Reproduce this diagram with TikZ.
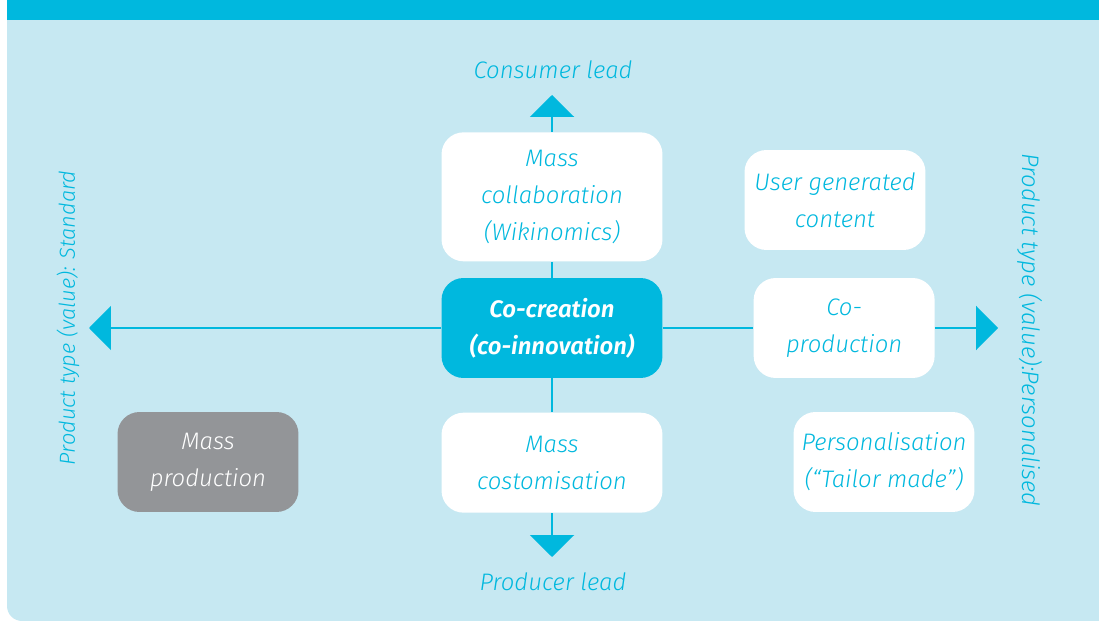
\documentclass[tikz,border=0pt]{standalone}
\usepackage{fontspec}
\setmainfont{Fira Sans}[ItalicFont=* Light Italic]
\usetikzlibrary{arrows.meta,positioning}
\definecolor{Cyan}{HTML}{00B8DE}
\definecolor{Pale}{HTML}{C6E8F2}
\definecolor{Slate}{HTML}{939598}

\begin{document}
\begin{tikzpicture}[x=0.02cm, y=-0.02cm,
  every node/.style={font=\fontsize{13.6}{21}\selectfont\itshape, text=Cyan, align=center},
  box/.style={fill=white, rounded corners=0.44cm, minimum width=4.42cm, minimum height=2cm, inner sep=0pt},
  smallbox/.style={box, minimum width=3.62cm},
  axis/.style={line width=1.4pt, draw=Cyan},
  tip/.style={axis, -{Triangle[width=0.88cm, length=0.44cm]}}]
\useasboundingbox (0,0) rectangle (1099,621);
% panel and header band
\fill[Pale] (7,0) -- (7,606) arc[start angle=180, end angle=270, radius=0.3cm] -- (1099,621) -- (1099,0) -- cycle;
\fill[Cyan] (7,0) rectangle (1099,20);

% the two axes
\coordinate (top) at (552,95);
\coordinate (bottom) at (552,557);
\coordinate (west) at (89,328);
\coordinate (east) at (998,328);
\node (consumer) at (553,70) {Consumer lead};
\node (producer) at (553,582) {Producer lead};
\node[rotate=90, font=\fontsize{12.4}{21}\selectfont\itshape] (standard) at (68,318) {Product type (value): Standard};
\node[rotate=-90] (personalised) at (1030,330) {Product type (value):Personalised};

% boxes
\node[box, fill=Cyan, text=white, font=\fontsize{13.6}{21}\selectfont\bfseries\itshape] (cocreation) at (552,328) {Co-creation\\(co-innovation)};
\node[box, minimum height=2.58cm, above=0.32cm of cocreation] (collab) {Mass\\collaboration\\(Wikinomics)};
\node[box, below=0.68cm of cocreation] (costom) {Mass\\costomisation};
\node[smallbox, right=1.81cm of cocreation] (coprod) {Co-\\production};
\node[smallbox] (ugc) at (835,200) {User generated\\content};
\node[smallbox] (personal) at (884,462) {Personalisation\\(“Tailor made”)};
\node[smallbox, fill=Slate, text=white] (massprod) at (208,462) {Mass\\production};

\foreach \x/\y in {cocreation/collab,cocreation/costom,cocreation/coprod}{\draw[axis] (\x) -- (\y);}
\foreach \x/\y in {collab/top,costom/bottom,cocreation/west,coprod/east}{\draw[tip] (\x) -- (\y);}
\end{tikzpicture}
\end{document}
